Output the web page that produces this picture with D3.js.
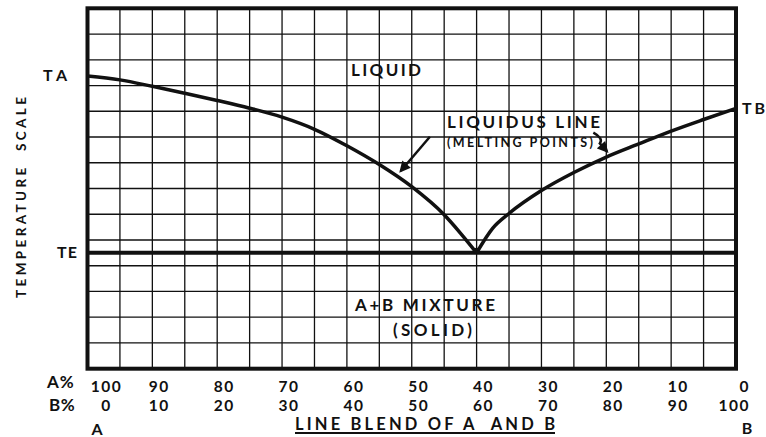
<!DOCTYPE html>
<html><head><meta charset="utf-8">
<script src="https://cdn.jsdelivr.net/npm/d3@7"></script>
<style>html,body{margin:0;padding:0;background:#fff;} svg{display:block;}</style>
</head><body>
<svg id="c" width="766" height="437"></svg>
<script>
// ---- data ----
const tickB = [0,10,20,30,40,50,60,70,80,90,100];           // composition, % B
const aRowLabels = ["100","90","80","70","60","50","40","30","20","10","0"];
const bRowLabels = ["0","10","20","30","40","50","60","70","80","90","100"];
const leftB  = [0,5,10,15,20,25,30,35,40,45,50,55,57.5,60];
const leftT  = [11.37,11.22,10.97,10.70,10.42,10.12,9.77,9.30,8.66,7.93,7.07,5.98,5.27,4.5];
const rightB = [60,62.5,65,70,75,80,85,90,95,100];
const rightT = [4.5,5.46,6.03,6.92,7.62,8.22,8.73,9.23,9.68,10.11];
const eutecticT = 4.5;
const tempNames = ["TA","TE","TB"];

// ---- layout ----
const svg = d3.select("#c");
const X0 = 87.5, X1 = 736, Y0 = 8.3, Y1 = 368.7;
const x = d3.scaleLinear().domain([0,100]).range([X0,X1]);
const y = d3.scaleLinear().domain([0,14]).range([Y1,Y0]);
const ink = "#111";
const FONT = "Lato, 'Open Sans', sans-serif";

// grid
const g = svg.append("g").attr("stroke", ink).attr("stroke-width", 1.3);
g.selectAll("line.v").data(x.ticks(20)).join("line")
  .attr("x1", d => x(d)).attr("x2", d => x(d)).attr("y1", Y0).attr("y2", Y1);
g.selectAll("line.h").data(y.ticks(14)).join("line")
  .attr("y1", d => y(d)).attr("y2", d => y(d)).attr("x1", X0).attr("x2", X1);

// TE line
svg.append("line").attr("x1", X0).attr("x2", X1)
  .attr("y1", y(eutecticT)).attr("y2", y(eutecticT))
  .attr("stroke", ink).attr("stroke-width", 4);

// liquidus branches
const line = d3.line().x(d => x(d[0])).y(d => y(d[1])).curve(d3.curveMonotoneX);
[[leftB,leftT],[rightB,rightT]].forEach(([bs,ts]) => {
  svg.append("path").datum(bs.map((b,i) => [b, ts[i]]))
    .attr("d", line).attr("fill","none").attr("stroke", ink)
    .attr("stroke-width", 3.5).attr("stroke-linejoin","round");
});
svg.append("circle").attr("cx", x(leftB[leftB.length-1])).attr("cy", y(eutecticT)-2)
  .attr("r", 3).attr("fill", ink);

// frame
svg.append("rect").attr("x", X0).attr("y", Y0).attr("width", X1-X0).attr("height", Y1-Y0)
  .attr("fill","none").attr("stroke", ink).attr("stroke-width", 4);

// arrows (in data units)
svg.append("defs").append("marker").attr("id","ah").attr("viewBox","0 0 10 10")
  .attr("refX", 8).attr("refY", 5).attr("markerWidth", 5).attr("markerHeight", 4.5)
  .attr("markerUnits","strokeWidth").attr("orient","auto")
  .append("path").attr("d","M0,0 L10,5 L0,10 z").attr("fill", ink);
svg.append("path")
  .attr("d", `M${x(52.8)},${y(9.01)} L${x(48.3)},${y(7.68)}`)
  .attr("stroke", ink).attr("stroke-width", 2.5).attr("fill","none").attr("marker-end","url(#ah)");
svg.append("path")
  .attr("d", `M${x(78.0)},${y(9.17)} Q${x(79.6)},${y(8.95)} ${x(79.0)},${y(8.75)} L${x(80.1)},${y(8.44)}`)
  .attr("stroke", ink).attr("stroke-width", 2.5).attr("fill","none").attr("marker-end","url(#ah)");

// text helper
function txt(s, px, py, opt={}) {
  const t = svg.append("text").text(s).attr("x", px).attr("y", py)
    .attr("font-family", opt.family || FONT).attr("font-weight", opt.weight || 700)
    .attr("font-size", opt.size || 16).attr("fill", ink)
    .attr("text-anchor", opt.anchor || "start")
    .style("white-space", "pre");
  if (opt.len) t.attr("textLength", opt.len).attr("lengthAdjust", opt.adj || "spacing");
  if (opt.ls) t.attr("letter-spacing", opt.ls);
  return t;
}

// in-plot labels
txt("LIQUID", 351, 76, {size:17, len:70});
txt("LIQUIDUS LINE", 447, 128, {size:17, len:153});
txt("(MELTING POINTS)", 447, 147, {size:12.5, len:146});
txt("A+B MIXTURE", 355, 311, {size:17, len:140});
txt("(SOLID)", 393, 336, {size:17, len:79});

// temperature names
txt(tempNames[0], 67, y(leftT[0]) + 5, {size:16, anchor:"end", len:24});
txt(tempNames[1], 77, y(eutecticT) + 5, {size:16, anchor:"end", len:20});
txt(tempNames[2], 742, y(rightT[rightT.length-1]) + 6, {size:16, len:23});

// y title
svg.append("text").text("TEMPERATURE  SCALE")
  .attr("transform", "translate(26,197.5) rotate(-90)")
  .attr("text-anchor","middle")
  .attr("font-family", FONT)
  .attr("font-weight",700).attr("font-size",13.5).attr("fill",ink)
  .style("white-space","pre")
  .attr("textLength",201).attr("lengthAdjust","spacing");

// bottom tick labels
tickB.forEach((b,i) => {
  const last = i === tickB.length-1, first = i === 0;
  const px = first ? x(b)+19 : last ? x(b)+14 : x(b)+7;
  const anchor = last ? "end" : "middle";
  txt(aRowLabels[i], px, 392, {size:15.5, anchor, ls:1.5});
  txt(bRowLabels[i], px, 410.5, {size:15.5, anchor, ls:1.5});
});
txt("A%", 47, 388, {size:17, ls:1});
txt("B%", 49, 410.5, {size:17, ls:0.5});
txt("A", 97, 435, {size:16, anchor:"middle"});
txt("B", 747, 434, {size:16, anchor:"middle"});
txt("LINE BLEND OF A  AND B", 295, 430, {size:16.5, len:260});
svg.append("line").attr("x1",295).attr("x2",555).attr("y1",433).attr("y2",433)
  .attr("stroke",ink).attr("stroke-width",1.8);
</script>
</body></html>
